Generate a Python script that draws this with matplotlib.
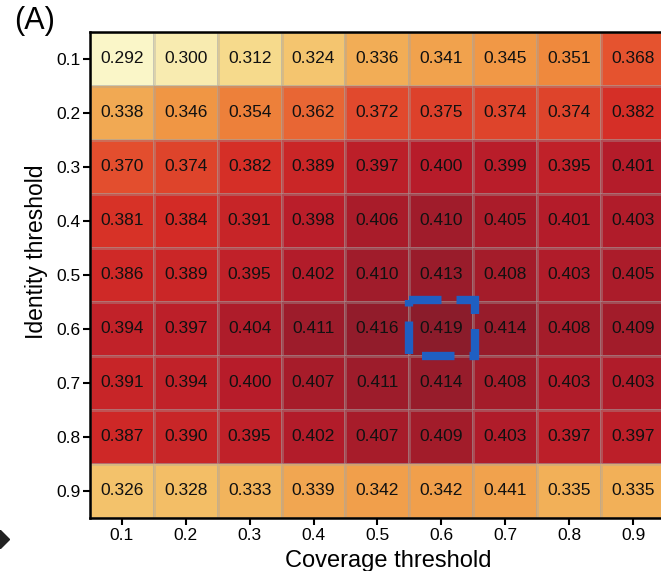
import numpy as np
import matplotlib
matplotlib.use("Agg")
import matplotlib.pyplot as plt
from matplotlib.colors import LinearSegmentedColormap
from matplotlib.patches import Rectangle

plt.rcParams['font.family'] = ['Liberation Sans', 'DejaVu Sans']

coverage = ["0.1", "0.2", "0.3", "0.4", "0.5", "0.6", "0.7", "0.8", "0.9"]
identity = ["0.1", "0.2", "0.3", "0.4", "0.5", "0.6", "0.7", "0.8", "0.9"]

# rows = identity threshold, cols = coverage threshold
row_01 = [0.292, 0.300, 0.312, 0.324, 0.336, 0.341, 0.345, 0.351, 0.368]
row_02 = [0.338, 0.346, 0.354, 0.362, 0.372, 0.375, 0.374, 0.374, 0.382]
row_03 = [0.370, 0.374, 0.382, 0.389, 0.397, 0.400, 0.399, 0.395, 0.401]
row_04 = [0.381, 0.384, 0.391, 0.398, 0.406, 0.410, 0.405, 0.401, 0.403]
row_05 = [0.386, 0.389, 0.395, 0.402, 0.410, 0.413, 0.408, 0.403, 0.405]
row_06 = [0.394, 0.397, 0.404, 0.411, 0.416, 0.419, 0.414, 0.408, 0.409]
row_07 = [0.391, 0.394, 0.400, 0.407, 0.411, 0.414, 0.408, 0.403, 0.403]
row_08 = [0.387, 0.390, 0.395, 0.402, 0.407, 0.409, 0.403, 0.397, 0.397]
row_09 = [0.326, 0.328, 0.333, 0.339, 0.342, 0.342, 0.341, 0.335, 0.335]

# the printed label in the original has a typo for this cell
label_override = {(8, 6): "0.441"}
best_cell = (5, 5)

values = np.array([row_01, row_02, row_03, row_04, row_05,
                   row_06, row_07, row_08, row_09])

cmap = LinearSegmentedColormap.from_list("heat", [
    (0.00, "#faf6c8"),
    (0.20, "#f5d27c"),
    (0.33, "#f2b25a"),
    (0.45, "#f08e3e"),
    (0.60, "#e5532f"),
    (0.72, "#d42c26"),
    (0.85, "#b71c2a"),
    (1.00, "#8b1c2b"),
])

fig = plt.figure(figsize=(6.61, 5.71), dpi=100)
ax = fig.add_axes([0.136, 0.093, 0.870, 0.851])

ax.pcolormesh(np.arange(10) - 0.5, np.arange(10) - 0.5, values,
              cmap=cmap, vmin=0.292, vmax=0.419,
              edgecolor=(0.65, 0.65, 0.65, 0.35), linewidth=0.8)
ax.set_xlim(-0.5, 8.5)
ax.set_ylim(8.5, -0.5)

for i in range(len(identity)):
    for j in range(len(coverage)):
        txt = label_override.get((i, j), f"{values[i, j]:.3f}")
        ax.text(j, i, txt, ha='center', va='center', fontsize=12.5, color='#111111')

# dashed highlight around the best cell
r, c = best_cell
ax.add_patch(Rectangle((c - 0.50, r - 0.53), 1.02, 1.04, fill=False,
                       edgecolor='#1f5fc2', linewidth=6,
                       linestyle=(0, (3.9, 1.8)), zorder=5))

ax.set_xticks(range(len(coverage)))
ax.set_xticklabels(coverage)
ax.set_yticks(range(len(identity)))
ax.set_yticklabels(identity)
ax.tick_params(axis='both', labelsize=12.5, length=5, width=1.5, color='black', pad=2)
ax.set_xlabel("Coverage threshold", fontsize=17, labelpad=5)
ax.set_ylabel("Identity threshold", fontsize=16.5, labelpad=6)
ax.xaxis.label.set_x(0.518)
ax.yaxis.label.set_y(0.547)

for side in ['left', 'top', 'bottom']:
    ax.spines[side].set_linewidth(1.8)
ax.spines['right'].set_visible(False)

fig.text(0.022, 0.963, "(A)", fontsize=22, ha='left', va='center')
fig.add_artist(plt.Line2D([0.0], [0.056], marker='D', markersize=9,
                          color='#222222', transform=fig.transFigure, clip_on=False))

fig.savefig("out.png", dpi=100)
